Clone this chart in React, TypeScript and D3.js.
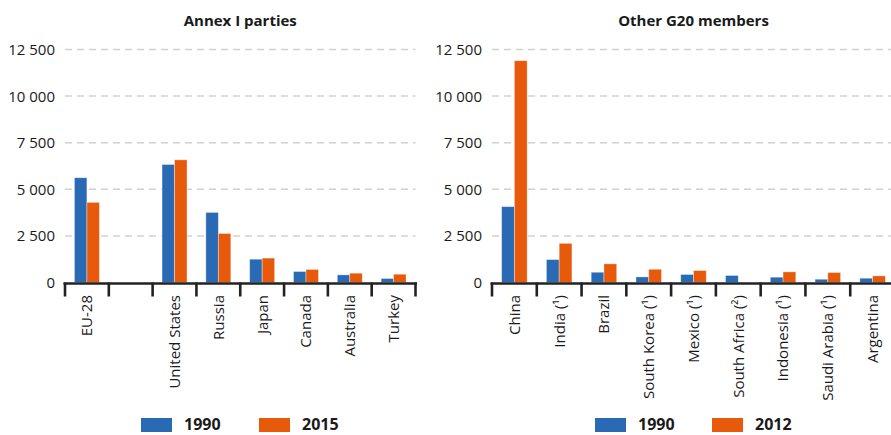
import React from "react";
import * as d3 from "d3";

const annexCategories = ["EU-28", " ", "United States", "Russia", "Japan", "Canada", "Australia", "Turkey"];
const annex1990 = [5620, null, 6330, 3760, 1250, 590, 410, 215];
const annex2015 = [4300, null, 6580, 2630, 1310, 700, 500, 445];

const g20Categories = ["China", "India (¹)", "Brazil", "South Korea (¹)", "Mexico (¹)", "South Africa (²)", "Indonesia (¹)", "Saudi Arabia (¹)", "Argentina"];
const g20_1990 = [4070, 1230, 550, 300, 430, 375, 285, 175, 230];
const g20_2012 = [11900, 2100, 1000, 710, 640, null, 570, 535, 355];

const tickValues = [0, 2500, 5000, 7500, 10000, 12500];
const tickLabels = ["0", "2 500", "5 000", "7 500", "10 000", "12 500"];

const BLUE = "#2a69b3";
const ORANGE = "#e85a0b";
const FONT = "'Open Sans', 'Noto Sans', sans-serif";

type PanelProps = {
  title: string;
  categories: string[];
  a: (number | null)[];
  b: (number | null)[];
  seriesNames: [string, string];
  x0: number;
  x1: number;
  legendX: [number, number];
};

function Panel({ title, categories, a, b, seriesNames, x0, x1, legendX }: PanelProps) {
  const y = d3.scaleLinear().domain([0, 12500]).range([282.5, 49.5]);
  const x = d3.scaleBand<string>().domain(categories).range([x0, x1]).padding(0);
  const bw = x.bandwidth();
  const xs = d3.scaleBand<string>().domain(seriesNames).range([bw * 0.215, bw * 0.785]);
  const gridEnd = Math.min(x1, 891);
  const baseY = y(0);
  return (
    <g>
      <text x={(x0 + x1) / 2} y={26} textAnchor="middle" fontFamily={FONT} fontWeight={700} fontSize={15} fill="#1a1a1a">
        {title}
      </text>
      {tickValues.map((t, i) => (
        <g key={t}>
          {t > 0 && (
            <line x1={x0} x2={gridEnd} y1={y(t)} y2={y(t)} stroke="#d2d2d2" strokeWidth={1.5} strokeDasharray="7 5" />
          )}
          <text x={x0 - 10} y={y(t)} dy="0.36em" textAnchor="end" fontFamily={FONT} fontSize={15} fill="#1a1a1a">
            {tickLabels[i]}
          </text>
        </g>
      ))}
      {categories.map((c, i) => {
        const bx = x(c)!;
        return (
          <g key={c + i}>
            {a[i] != null && (
              <rect x={bx + xs(seriesNames[0])!} y={y(a[i] as number)} width={xs.bandwidth()} height={baseY - y(a[i] as number)} fill={BLUE} stroke="rgba(255,255,255,0.45)" strokeWidth={0.8} />
            )}
            {b[i] != null && (
              <rect x={bx + xs(seriesNames[1])!} y={y(b[i] as number)} width={xs.bandwidth()} height={baseY - y(b[i] as number)} fill={ORANGE} stroke="rgba(255,255,255,0.45)" strokeWidth={0.8} />
            )}
          </g>
        );
      })}
      <line x1={x0 - 1.5} x2={x1 + 1.5} y1={baseY + 1} y2={baseY + 1} stroke="#222" strokeWidth={2.6} />
      {categories.map((c, i) => (
        <line key={"t" + i} x1={x(c)!} x2={x(c)!} y1={baseY} y2={296.5} stroke="#222" strokeWidth={2.6} />
      ))}
      <line x1={x1} x2={x1} y1={baseY} y2={296.5} stroke="#222" strokeWidth={2.6} />
      {categories.map((c, i) => (
        <text
          key={"l" + i}
          transform={`translate(${x(c)! + bw / 2},${295}) rotate(-90)`}
          textAnchor="end"
          dy="0.36em"
          fontFamily={FONT}
          fontSize={15}
          fill="#1a1a1a"
        >
          {c.trim()}
        </text>
      ))}
      <rect x={legendX[0]} y={418} width={31} height={14} fill={BLUE} />
      <text x={legendX[0] + 43} y={430} fontFamily={FONT} fontWeight={700} fontSize={16} fill="#1a1a1a">
        {seriesNames[0]}
      </text>
      <rect x={legendX[1]} y={418} width={31} height={14} fill={ORANGE} />
      <text x={legendX[1] + 43} y={430} fontFamily={FONT} fontWeight={700} fontSize={16} fill="#1a1a1a">
        {seriesNames[1]}
      </text>
    </g>
  );
}

export default function App() {
  return (
    <svg width={891} height={435} style={{ position: "absolute", left: 0, top: 0, background: "#fff" }}>
      <rect width={891} height={435} fill="#fff" />
      <Panel title="Annex I parties" categories={annexCategories} a={annex1990} b={annex2015} seriesNames={["1990", "2015"]} x0={65} x1={415.5} legendX={[141, 259]} />
      <Panel title="Other G20 members" categories={g20Categories} a={g20_1990} b={g20_2012} seriesNames={["1990", "2012"]} x0={492} x1={895} legendX={[595, 712]} />
    </svg>
  );
}
